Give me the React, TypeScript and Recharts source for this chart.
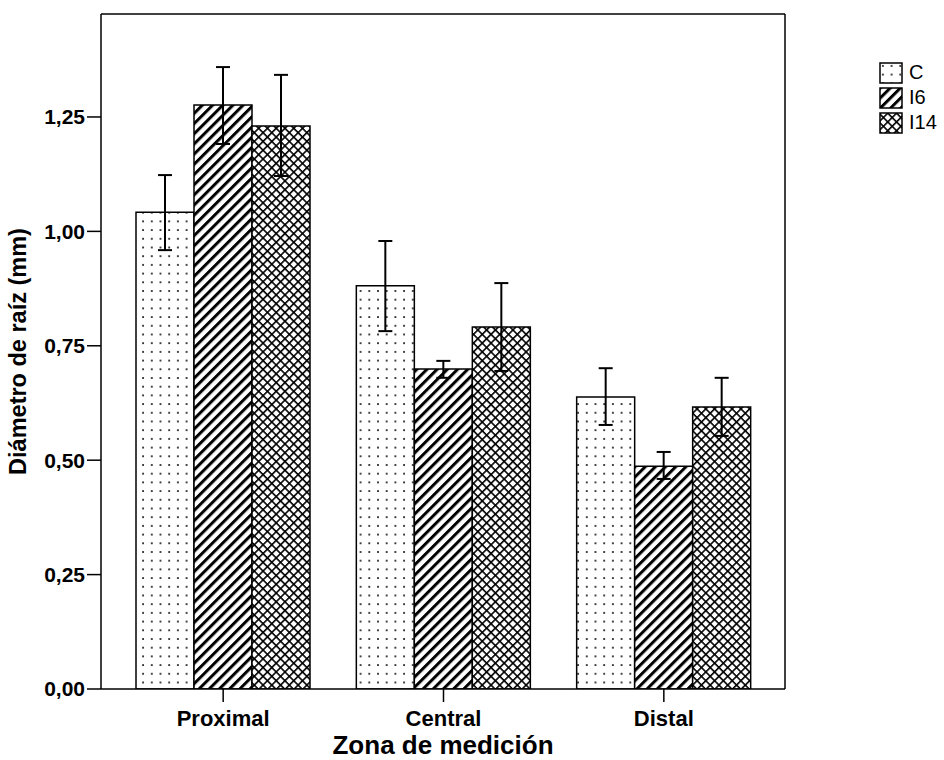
import React from 'react'
import { BarChart, Bar, XAxis, YAxis, ErrorBar } from 'recharts'

const zones = ['Proximal', 'Central', 'Distal']
const meanC = [1.042, 0.881, 0.638]
const meanI6 = [1.276, 0.699, 0.487]
const meanI14 = [1.23, 0.791, 0.616]
// error bar bounds
const lowC = [0.959, 0.782, 0.577]
const highC = [1.123, 0.979, 0.701]
const lowI6 = [1.191, 0.68, 0.459]
const highI6 = [1.359, 0.717, 0.518]
const lowI14 = [1.121, 0.695, 0.553]
const highI14 = [1.342, 0.887, 0.68]
const yTicks = [0, 0.25, 0.5, 0.75, 1.0, 1.25]

const series = [
  { key: 'C', fill: 'url(#dots)' },
  { key: 'I6', fill: 'url(#diag)' },
  { key: 'I14', fill: 'url(#cross)' },
]

const data = zones.map((zone, i) => ({
  zone,
  C: meanC[i],
  I6: meanI6[i],
  I14: meanI14[i],
  errC: [meanC[i] - lowC[i], highC[i] - meanC[i]],
  errI6: [meanI6[i] - lowI6[i], highI6[i] - meanI6[i]],
  errI14: [meanI14[i] - lowI14[i], highI14[i] - meanI14[i]],
}))

const font = '"Liberation Sans", Arial, sans-serif'

const LegendBox = () => (
  <div style={{ position: 'absolute', left: 879, top: 60, fontFamily: font, fontSize: 20, color: '#000' }}>
    {series.map((s) => (
      <div key={s.key} style={{ display: 'flex', alignItems: 'center', height: 25 }}>
        <svg width={24} height={22} style={{ marginRight: 6 }}>
          <rect x={1} y={1} width={22} height={20} fill={s.fill} stroke="#000" strokeWidth={1.5} />
        </svg>
        <span>{s.key}</span>
      </div>
    ))}
  </div>
)

export default function App() {
  return (
    <div style={{ position: 'absolute', left: 0, top: 0, width: 944, height: 760, background: '#fff' }}>
      <BarChart
        width={944}
        height={760}
        data={data}
        margin={{ top: 13, right: 158, bottom: 41, left: 0 }}
        barGap={0}
        barSize={58}
      >
        <defs>
          <pattern id="dots" width={8.7} height={8.7} patternUnits="userSpaceOnUse">
            <rect width={8.7} height={8.7} fill="#fff" />
            <rect x={3} y={3} width={1.8} height={1.8} fill="#222" />
          </pattern>
          <pattern id="diag" width={7.2} height={7.2} patternUnits="userSpaceOnUse" patternTransform="rotate(45)">
            <rect width={7.2} height={7.2} fill="#fff" />
            <rect x={0} y={0} width={3} height={7.2} fill="#000" />
          </pattern>
          <pattern id="cross" width={6.2} height={6.2} patternUnits="userSpaceOnUse" patternTransform="rotate(45)">
            <rect width={6.2} height={6.2} fill="#fff" />
            <rect x={0} y={0} width={1.6} height={6.2} fill="#000" />
            <rect x={0} y={0} width={6.2} height={1.6} fill="#000" />
          </pattern>
        </defs>
        <XAxis
          dataKey="zone"
          padding={{ left: 12, right: 11 }}
          stroke="#000"
          strokeWidth={1.5}
          tickSize={13}
          tickMargin={8}
          fontSize={22}
          tick={{ fill: '#000', fontSize: 22, fontWeight: 'bold', fontFamily: font }}
          label={{
            value: 'Zona de medición',
            position: 'insideBottom',
            offset: -35,
            fill: '#000',
            fontSize: 26,
            fontWeight: 'bold',
            fontFamily: font,
          }}
        />
        <XAxis xAxisId="top" orientation="top" dataKey="zone" height={1} tick={false} tickLine={false} stroke="#000" strokeWidth={1.5} />
        <YAxis
          width={101}
          domain={[0, 1.475]}
          ticks={yTicks}
          allowDataOverflow
          stroke="#000"
          strokeWidth={1.5}
          tickSize={14}
          tickMargin={2}
          fontSize={21}
          tickFormatter={(v: number) => v.toFixed(2).replace('.', ',')}
          tick={{ fill: '#000', fontSize: 21, fontWeight: 'bold', fontFamily: font }}
          label={{
            value: 'Diámetro de raíz (mm)',
            angle: -90,
            position: 'insideLeft',
            offset: 18,
            style: { textAnchor: 'middle' },
            fill: '#000',
            fontSize: 23.5,
            fontWeight: 'bold',
            fontFamily: font,
          }}
        />
        <YAxis yAxisId="right" orientation="right" width={1} domain={[0, 1.475]} tick={false} tickLine={false} stroke="#000" strokeWidth={1.5} />
        {series.map((s) => (
          <Bar key={s.key} dataKey={s.key} fill={s.fill} stroke="#000" strokeWidth={1.5} isAnimationActive={false}>
            <ErrorBar dataKey={'err' + s.key} width={7} stroke="#000" strokeWidth={2} direction="y" />
          </Bar>
        ))}
      </BarChart>
      <LegendBox />
    </div>
  )
}
